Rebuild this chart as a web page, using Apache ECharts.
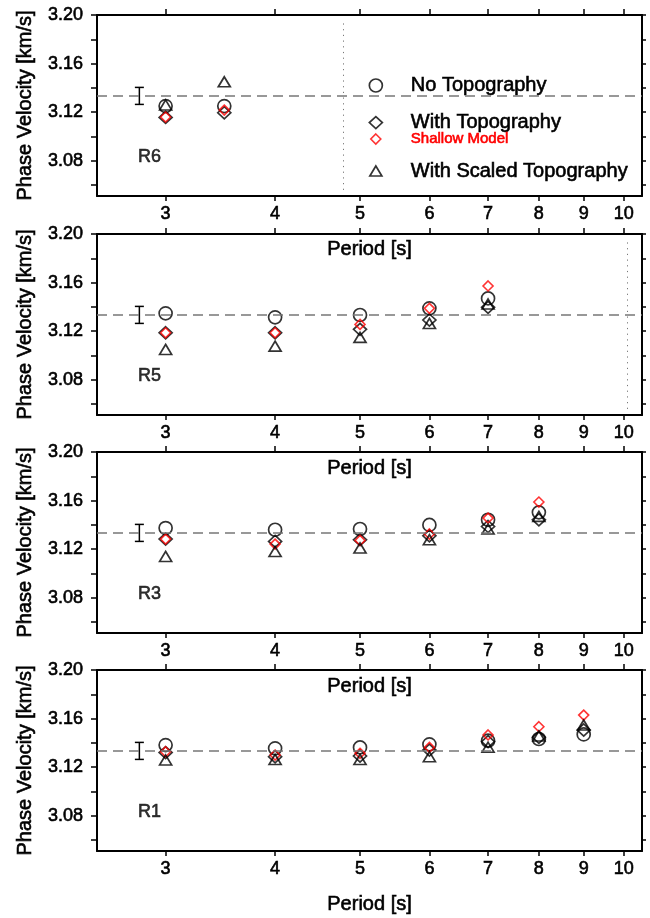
<!DOCTYPE html>
<html>
<head>
<meta charset="utf-8">
<script src="https://cdn.jsdelivr.net/npm/echarts@6/dist/echarts.min.js"></script>
<style>
  html, body { margin: 0; padding: 0; background: #fff; }
  #chart { width: 650px; height: 918px; }
</style>
</head>
<body>
<div id="chart"></div>
<script>
// tick marks / labels
const xTicks = [3, 4, 5, 6, 7, 8, 9, 10];
const yTicks = [3.06, 3.08, 3.10, 3.12, 3.14, 3.16, 3.18, 3.20];
const yLabels = [3.08, 3.12, 3.16, 3.20];

// panels, top to bottom
const regions = ['R6', 'R5', 'R3', 'R1'];
const periods = [
  [3, 3.5],
  [3, 4, 5, 6, 7],
  [3, 4, 5, 6, 7, 8],
  [3, 4, 5, 6, 7, 8, 9]
];
const noTopo = [
  [3.125, 3.125],
  [3.1347, 3.1314, 3.1333, 3.1388, 3.147],
  [3.1374, 3.136, 3.1366, 3.14, 3.1442, 3.1503],
  [3.1382, 3.1355, 3.1363, 3.1388, 3.1418, 3.1432, 3.147]
];
const withTopo = [
  [3.1157, 3.1195],
  [3.1187, 3.1187, 3.1215, 3.1292, 3.1396],
  [3.1283, 3.1264, 3.1278, 3.131, 3.1387, 3.1442],
  [3.132, 3.1286, 3.1292, 3.1341, 3.141, 3.1446, 3.1506]
];
const shallow = [
  [3.116, 3.1217],
  [3.1187, 3.1187, 3.1256, 3.1388, 3.1572],
  [3.1283, 3.1242, 3.1272, 3.1325, 3.1456, 3.1588],
  [3.1327, 3.13, 3.1314, 3.1363, 3.1465, 3.1533, 3.1629]
];
const scaledTopo = [
  [3.1259, 3.145],
  [3.105, 3.1077, 3.1149, 3.1264, 3.1423],
  [3.114, 3.1181, 3.121, 3.1278, 3.1366, 3.147],
  [3.1259, 3.1264, 3.1264, 3.1286, 3.1364, 3.1457, 3.1547]
];
// observed value with error bar, and the reference dashed line
const obsPeriod = 2.80;
const obsLow = 3.1264;
const obsHigh = 3.1404;
const refVelocity = 3.1333;
const regionLabelAt = [2.88, 3.083];
// dotted vertical line per panel (null = none)
const dottedPeriod = [4.78, 10.09, null, null];
const dottedRange = [3.056, 3.195];

const xMin = 2.505, xMax = 10.49;
const yMin = 3.051, yMax = 3.20;
const gridTops = [15, 234, 452, 670];

const FONT = "'Liberation Sans', Arial, Helvetica, sans-serif";
// thin outline on text to get the heavier look of the original
const txt = (size, color) => ({fontFamily: FONT, fontSize: size, color: color,
  textBorderColor: color, textBorderWidth: 0.6});
const lg = v => Math.log10(v);
const pts = (xs, ys) => xs.map((x, i) => [lg(x), ys[i]]);

const grid = [], xAxis = [], yAxis = [], series = [];

gridTops.forEach((top, i) => {
  grid.push({left: 97, right: 8, top: top, height: 181});
  // bottom x axis
  xAxis.push({
    type: 'value', gridIndex: i, position: 'bottom',
    min: lg(xMin), max: lg(xMax),
    name: 'Period [s]', nameLocation: 'middle', nameGap: 43,
    nameTextStyle: txt(20, '#000'),
    axisLine: {show: true, onZero: false, lineStyle: {color: '#000', width: 2}},
    axisTick: {show: true, inside: false, length: 5, lineStyle: {color: '#000', width: 1.5}, customValues: xTicks.map(lg)},
    axisLabel: Object.assign(txt(18, '#000'), {show: true, margin: 9,
      customValues: xTicks.map(lg), formatter: v => String(Math.round(Math.pow(10, v)))}),
    splitLine: {show: false}
  });
  // top x axis (ticks only)
  xAxis.push({
    type: 'value', gridIndex: i, position: 'top',
    min: lg(xMin), max: lg(xMax),
    axisLine: {show: true, onZero: false, lineStyle: {color: '#000', width: 2}},
    axisTick: {show: true, inside: false, length: 6, lineStyle: {color: '#000', width: 1.5}, customValues: xTicks.map(lg)},
    axisLabel: {show: false},
    splitLine: {show: false}
  });
  yAxis.push({
    type: 'value', gridIndex: i, position: 'left',
    min: yMin, max: yMax,
    name: 'Phase Velocity [km/s]', nameLocation: 'middle', nameGap: 62,
    nameTextStyle: txt(20, '#000'),
    axisLine: {show: true, onZero: false, lineStyle: {color: '#000', width: 2}},
    axisTick: {show: true, inside: false, length: 6, lineStyle: {color: '#000', width: 1.5}, customValues: yTicks},
    axisLabel: Object.assign(txt(18, '#000'), {show: true, margin: 14,
      customValues: yLabels, formatter: v => v.toFixed(2)}),
    splitLine: {show: false}
  });
  yAxis.push({
    type: 'value', gridIndex: i, position: 'right',
    min: yMin, max: yMax,
    axisLine: {show: true, onZero: false, lineStyle: {color: '#000', width: 2}},
    axisTick: {show: true, inside: false, length: 4, lineStyle: {color: '#000', width: 1.5}, customValues: yTicks},
    axisLabel: {show: false},
    splitLine: {show: false}
  });

  const ax = {xAxisIndex: 2 * i, yAxisIndex: 2 * i};

  const lines = [{yAxis: refVelocity, lineStyle: {color: '#777', width: 1.5, type: [10, 6]}}];
  if (dottedPeriod[i] !== null) {
    lines.push([
      {coord: [lg(dottedPeriod[i]), dottedRange[0]], lineStyle: {color: '#777', width: 1, type: [1.2, 4.5]}},
      {coord: [lg(dottedPeriod[i]), dottedRange[1]]}
    ]);
  }

  // error bar of the observed value
  series.push(Object.assign({
    type: 'custom', silent: true,
    data: [[lg(obsPeriod), obsLow, obsHigh]],
    encode: {x: 0, y: [1, 2]},
    renderItem: (params, api) => {
      const x = api.value(0);
      const lo = api.coord([x, api.value(1)]);
      const hi = api.coord([x, api.value(2)]);
      const w = 4.5;
      const st = {stroke: '#000', lineWidth: 1.5};
      return {type: 'group', children: [
        {type: 'line', shape: {x1: lo[0], y1: lo[1], x2: hi[0], y2: hi[1]}, style: st},
        {type: 'line', shape: {x1: lo[0] - w, y1: lo[1], x2: lo[0] + w, y2: lo[1]}, style: st},
        {type: 'line', shape: {x1: hi[0] - w, y1: hi[1], x2: hi[0] + w, y2: hi[1]}, style: st}
      ]};
    }
  }, ax));

  const hollow = {color: 'rgba(0,0,0,0)', borderColor: '#000', borderWidth: 1.7};
  series.push(Object.assign({
    name: 'No Topography', type: 'scatter', symbol: 'circle', symbolSize: 13,
    itemStyle: hollow, data: pts(periods[i], noTopo[i]),
    markLine: {silent: true, precision: 4, symbol: ['none', 'none'], label: {show: false}, data: lines}
  }, ax));
  series.push(Object.assign({
    name: 'With Topography', type: 'scatter', symbol: 'diamond', symbolSize: [13, 12],
    itemStyle: hollow, data: pts(periods[i], withTopo[i])
  }, ax));
  series.push(Object.assign({
    name: 'Shallow Model', type: 'scatter', symbol: 'diamond', symbolSize: 10,
    itemStyle: {color: 'rgba(0,0,0,0)', borderColor: '#ff0000', borderWidth: 1.6},
    data: pts(periods[i], shallow[i])
  }, ax));
  series.push(Object.assign({
    name: 'With Scaled Topography', type: 'scatter', symbol: 'triangle', symbolSize: [12, 10],
    itemStyle: hollow, data: pts(periods[i], scaledTopo[i])
  }, ax));
  // region tag
  series.push(Object.assign({
    type: 'scatter', symbol: 'circle', symbolSize: 1, silent: true,
    itemStyle: {color: 'rgba(0,0,0,0)'},
    data: [[lg(regionLabelAt[0]), regionLabelAt[1]]],
    label: Object.assign(txt(18, '#000'), {show: true, position: [0, 0],
      align: 'center', verticalAlign: 'middle', formatter: regions[i]})
  }, ax));
});

const legendBase = {orient: 'vertical', padding: 0, selectedMode: false};
const legend = [
  Object.assign({}, legendBase, {
    left: 368.5, top: 75.2, itemWidth: 13, itemHeight: 13,
    itemStyle: {borderWidth: 1.7},
    data: [{name: 'No Topography', icon: 'circle'}],
    textStyle: Object.assign(txt(20, '#000'), {padding: [0, 0, 0, 23.5]})
  }),
  Object.assign({}, legendBase, {
    left: 368.5, top: 112.3, itemWidth: 13, itemHeight: 12,
    itemStyle: {borderWidth: 1.7},
    data: [{name: 'With Topography', icon: 'diamond'}],
    textStyle: Object.assign(txt(20, '#000'), {padding: [0, 0, 0, 23.5]})
  }),
  Object.assign({}, legendBase, {
    left: 370, top: 131.2, itemWidth: 10, itemHeight: 10,
    itemStyle: {borderWidth: 1.6},
    data: [{name: 'Shallow Model', icon: 'diamond'}],
    textStyle: Object.assign(txt(15, '#ff0000'), {padding: [0, 0, 0, 25]})
  }),
  Object.assign({}, legendBase, {
    left: 369, top: 160.7, itemWidth: 12, itemHeight: 10,
    itemStyle: {borderWidth: 1.7},
    data: [{name: 'With Scaled Topography', icon: 'triangle'}],
    textStyle: Object.assign(txt(20, '#000'), {padding: [0, 0, 0, 24]})
  })
];

const chart = echarts.init(document.getElementById('chart'), null, {renderer: 'canvas'});
chart.setOption({
  animation: false,
  backgroundColor: '#fff',
  grid: grid,
  xAxis: xAxis,
  yAxis: yAxis,
  legend: legend,
  series: series
});
</script>
</body>
</html>
